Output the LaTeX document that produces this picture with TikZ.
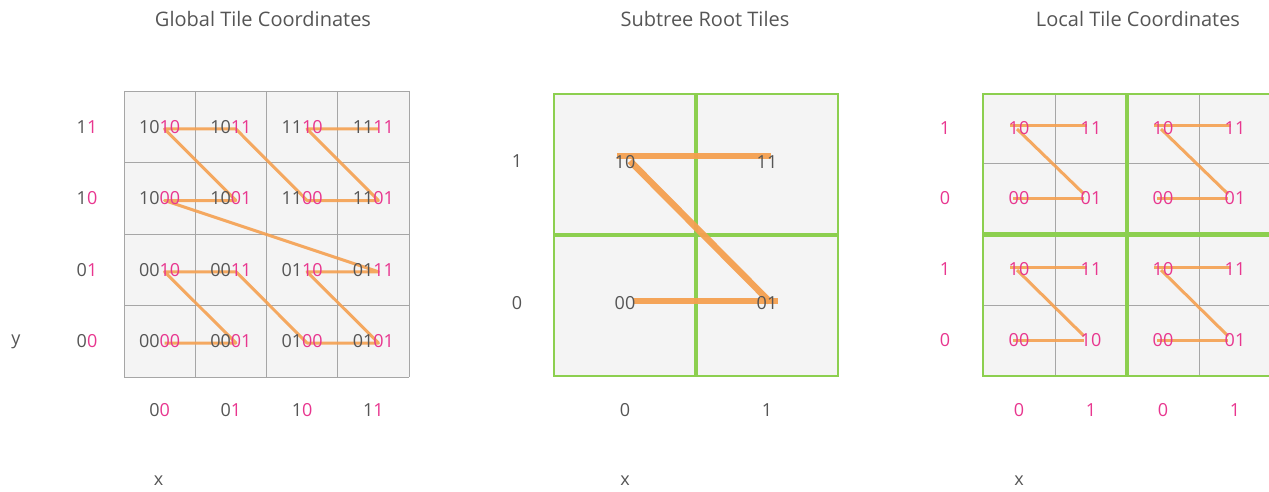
\documentclass[tikz,border=0pt]{standalone}
\usepackage{fontspec}
\setmainfont{Open Sans}
\newfontfamily\titlefont{Open Sans}
\definecolor{tgray}{HTML}{555555}
\definecolor{tpink}{HTML}{E8368F}
\definecolor{zorange}{HTML}{F5A050}
\definecolor{tgreen}{HTML}{8CCF4F}
\definecolor{cellfill}{HTML}{F4F4F4}
\definecolor{cellline}{HTML}{A6A6A6}
\pgfdeclarelayer{back}
\pgfdeclarelayer{lines}
\pgfsetlayers{back,lines,main}
\newcommand\glab[5]{\node[lbl] (#1) at (#2,#3) {#4\textcolor{tpink}{#5}};}
\newcommand\plab[4]{\node[lbl,text=tpink] (#1) at (#2,#3) {#4};}
\tikzset{
  lbl/.style={inner sep=0pt, font=\fontsize{18}{20}\selectfont, text=tgray},
  ttl/.style={inner sep=0pt, font=\titlefont\fontsize{20}{22}\selectfont, text=tgray},
  zline/.style={draw=zorange, line width=3pt, opacity=0.9, line join=round},
  zthick/.style={draw=zorange, line width=6.5pt, opacity=0.95},
  thin/.style={draw=cellline, line width=0.9pt},
  gline/.style={draw=tgreen, line width=2.6pt},
  gdiv/.style={draw=tgreen, line width=4.5pt},
}
\begin{document}
\begin{tikzpicture}[x=1pt,y=-1pt]
\useasboundingbox (0,0) rectangle (1269,492);
% titles
\node[ttl] (t1) at (263,19) {Global Tile Coordinates};
\node[ttl] (t2) at (705,19) {Subtree Root Tiles};
\node[ttl] (t3) at (1138,19) {Local Tile Coordinates};

% ---------- left grid ----------
\begin{pgfonlayer}{back}
\fill[cellfill] (124,91) rectangle (409,377);
\foreach \x in {124,195.25,266.5,337.75,409} \draw[thin] (\x,91) -- (\x,377);
\foreach \y in {91,162.5,234,305.5,377} \draw[thin] (124,\y) -- (409,\y);
\end{pgfonlayer}
\glab{g1010}{159.6}{127}{10}{10}
\glab{g1011}{230.9}{127}{10}{11}
\glab{g1110}{302.1}{127}{11}{10}
\glab{g1111}{373.4}{127}{11}{11}
\glab{g1000}{159.6}{198.5}{10}{00}
\glab{g1001}{230.9}{198.5}{10}{01}
\glab{g1100}{302.1}{198.5}{11}{00}
\glab{g1101}{373.4}{198.5}{11}{01}
\glab{g0010}{159.6}{269.75}{00}{10}
\glab{g0011}{230.9}{269.75}{00}{11}
\glab{g0110}{302.1}{269.75}{01}{10}
\glab{g0111}{373.4}{269.75}{01}{11}
\glab{g0000}{159.6}{341}{00}{00}
\glab{g0001}{230.9}{341}{00}{01}
\glab{g0100}{302.1}{341}{01}{00}
\glab{g0101}{373.4}{341}{01}{01}
\begin{pgfonlayer}{lines}
\draw[zline] ([shift={(5,2)}]g0000.center)
  \foreach \n in {0001,0010,0011,0100,0101,0110,0111,1000,1001,1010,1011,1100,1101,1110,1111} { -- ([shift={(5,2)}]g\n.center) };
\end{pgfonlayer}
% axis labels left
\glab{ly11}{87}{127}{1}{1}
\glab{ly10}{87}{198.5}{1}{0}
\glab{ly01}{87}{269.75}{0}{1}
\glab{ly00}{87}{341}{0}{0}
\node[lbl] (ly) at (16,342) {y};
\glab{lx00}{159.6}{410}{0}{0}
\glab{lx01}{230.9}{410}{0}{1}
\glab{lx10}{302.1}{410}{1}{0}
\glab{lx11}{373.4}{410}{1}{1}
\node[lbl] (lx) at (158.5,481) {x};

% ---------- middle grid ----------
\begin{pgfonlayer}{back}
\fill[cellfill] (554,94) rectangle (838,376);
\draw[gline] (554,94) rectangle (838,376);
\draw[gdiv] (696,94) -- (696,376);
\draw[gdiv] (554,235) -- (838,235);
\end{pgfonlayer}
\node[lbl] (m10) at (625,162) {10};
\node[lbl] (m11) at (767,162) {11};
\node[lbl] (m00) at (625,303) {00};
\node[lbl] (m01) at (767,303) {01};
\begin{pgfonlayer}{lines}
\draw[zthick] ([shift={(8,-2)}]m00.center) -- ([shift={(11,-2)}]m01.center);
\draw[zthick] ([shift={(3,-1)}]m01.center) -- ([shift={(5,-1)}]m10.center);
\draw[zthick] ([shift={(-8,-6)}]m10.center) -- ([shift={(4,-6)}]m11.center);
\end{pgfonlayer}
\node[lbl] (my1) at (517,161) {1};
\node[lbl] (my0) at (517,303) {0};
\node[lbl] (mx0) at (625,410) {0};
\node[lbl] (mx1) at (767,410) {1};
\node[lbl] (mx) at (625,481) {x};

% ---------- right grid ----------
\begin{pgfonlayer}{back}
\fill[cellfill] (983,94) rectangle (1271,376);
\foreach \x in {1055,1199} \draw[thin] (\x,94) -- (\x,376);
\foreach \y in {163.5,305.5} \draw[thin] (983,\y) -- (1271,\y);
\draw[gline] (983,94) rectangle (1271,376);
\draw[gdiv] (1127,94) -- (1127,376);
\draw[gdiv] (983,234.5) -- (1271,234.5);
\end{pgfonlayer}
% quadrants
\plab{aTL10}{1019}{128}{10}
\plab{aTL11}{1091}{128}{11}
\plab{aTL00}{1019}{198}{00}
\plab{aTL01}{1091}{198}{01}
\plab{aTR10}{1163}{128}{10}
\plab{aTR11}{1235}{128}{11}
\plab{aTR00}{1163}{198}{00}
\plab{aTR01}{1235}{198}{01}
\plab{aBL10}{1019}{269}{10}
\plab{aBL11}{1091}{269}{11}
\plab{aBL00}{1019}{340}{00}
\plab{aBL01}{1091}{340}{10}
\plab{aBR10}{1163}{269}{10}
\plab{aBR11}{1235}{269}{11}
\plab{aBR00}{1163}{340}{00}
\plab{aBR01}{1235}{340}{01}
\begin{pgfonlayer}{lines}
\foreach \q in {TL,TR,BL,BR} {
  \draw[zline] ([shift={(-6,0)}]a\q00.center) -- ([shift={(-7,0)}]a\q01.center);
  \draw[zline] ([shift={(-7,-4)}]a\q01.center) -- ([shift={(-2,1)}]a\q10.center);
  \draw[zline] ([shift={(-9,-2)}]a\q10.center) -- ([shift={(-4,-2)}]a\q11.center);
}
\end{pgfonlayer}
\plab{ry1a}{945}{128}{1}
\plab{ry0a}{945}{198}{0}
\plab{ry1b}{945}{269}{1}
\plab{ry0b}{945}{340}{0}
\plab{rx0a}{1019}{410}{0}
\plab{rx1a}{1091}{410}{1}
\plab{rx0b}{1163}{410}{0}
\plab{rx1b}{1235}{410}{1}
\node[lbl] (rx) at (1019,481) {x};
\end{tikzpicture}
\end{document}
